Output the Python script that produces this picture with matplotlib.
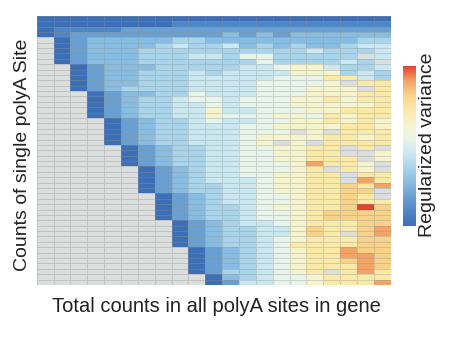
import numpy as np
import matplotlib
matplotlib.use('Agg')
import matplotlib.pyplot as plt
from matplotlib.colors import LinearSegmentedColormap

plt.rcParams['font.family'] = ['Liberation Sans', 'DejaVu Sans']

# Heatmap cells, top row first, 21 columns each.
# '.' = not possible (grey), 0..9, A, B = colour level from blue (0) to red (B)
cell_rows = [
    "0 0 0 0 0 0 0 0 0 0 0 0 0 0 0 0 0 0 0 0 0",
    "0 0 0 0 0 0 0 0 1 1 1 1 1 1 1 1 1 1 1 1 1",
    "0 1 1 1 1 2 2 2 2 2 2 2 2 2 2 2 2 2 2 2 2",
    "0 1 2 2 2 2 2 2 2 2 2 3 2 3 2 3 3 3 3 3 3",
    ". 0 2 3 3 3 3 3 4 4 3 3 3 3 3 3 3 3 3 4 4",
    ". 0 2 3 3 3 3 4 5 4 4 5 3 4 3 4 3 3 4 5 5",
    ". 0 2 3 3 3 4 4 4 4 4 4 4 4 4 4 5 4 4 4 5",
    ". 0 2 3 3 3 4 4 4 5 5 4 6 6 4 4 4 4 4 . 5",
    ". 0 2 3 3 3 4 4 4 4 4 4 4 6 4 4 4 4 5 4 .",
    ". . 0 2 3 3 3 4 4 4 4 4 5 5 6 7 7 5 4 4 5",
    ". . 0 2 3 3 4 4 4 5 4 5 5 5 5 7 7 7 4 5 4",
    ". . 0 2 3 3 4 4 4 5 5 5 5 5 6 6 6 8 8 5 4",
    ". . 0 2 3 3 4 4 4 5 5 5 5 6 6 6 6 7 . 8 8",
    ". . 0 2 3 4 4 4 4 5 5 5 5 6 6 6 7 7 7 . 8",
    ". . . 0 2 3 3 4 4 6 5 5 5 6 6 6 7 7 7 8 8",
    ". . . 0 2 3 4 4 5 6 6 5 6 6 6 7 7 8 7 8 8",
    ". . . 0 2 3 4 4 5 5 6 5 6 6 6 7 7 7 7 7 8",
    ". . . 0 2 3 4 4 5 5 7 5 5 6 6 6 7 7 8 8 8",
    ". . . 0 2 3 4 4 5 5 7 6 6 6 7 7 6 8 7 8 8",
    ". . . . 0 2 3 4 4 5 6 5 5 6 6 7 7 8 7 8 7",
    ". . . . 0 2 3 4 4 5 5 5 6 6 7 7 7 7 8 8 7",
    ". . . . 0 2 3 4 4 5 5 5 6 6 6 . 7 . 8 8 8",
    ". . . . 0 2 3 4 4 5 5 5 6 7 7 7 7 8 8 7 8",
    ". . . . 0 2 3 4 4 5 5 5 6 7 . 7 . 8 8 8 8",
    ". . . . . 0 2 3 4 4 5 5 6 6 7 7 8 8 . 8 .",
    ". . . . . 0 2 3 4 4 5 5 6 6 7 7 8 8 . . 7",
    ". . . . . 0 2 3 4 4 5 5 6 6 7 7 8 8 8 . 7",
    ". . . . . 0 2 3 4 4 5 5 6 6 6 7 A 8 8 7 .",
    ". . . . . . 0 2 3 4 5 5 6 6 6 7 8 . 8 7 .",
    ". . . . . . 0 2 3 4 5 5 6 6 7 7 8 8 . 8 8",
    ". . . . . . 0 2 3 4 5 5 5 6 7 7 8 8 . A 8",
    ". . . . . . 0 2 3 4 4 5 5 6 7 7 8 8 9 8 A",
    ". . . . . . 0 2 3 4 4 5 5 6 7 7 8 8 9 9 .",
    ". . . . . . . 0 2 3 4 5 5 6 6 7 8 8 9 8 .",
    ". . . . . . . 0 2 3 4 5 5 6 6 7 8 8 9 8 8",
    ". . . . . . . 0 2 3 4 4 5 6 7 7 8 8 9 B 9",
    ". . . . . . . 0 2 3 4 4 5 6 6 7 8 9 9 9 9",
    ". . . . . . . 0 2 3 4 4 5 6 6 7 8 9 9 9 9",
    ". . . . . . . . 0 2 3 4 5 5 6 7 8 8 8 9 9",
    ". . . . . . . . 0 2 3 4 4 5 5 7 9 8 8 9 A",
    ". . . . . . . . 0 2 3 4 4 5 5 7 9 8 . 9 A",
    ". . . . . . . . 0 2 3 4 4 5 6 7 8 8 8 9 9",
    ". . . . . . . . 0 2 3 4 4 5 6 8 8 8 8 9 9",
    ". . . . . . . . . 0 2 3 4 5 6 7 8 8 A 9 9",
    ". . . . . . . . . 0 2 3 4 5 6 7 8 8 A A 9",
    ". . . . . . . . . 0 2 3 4 5 6 7 8 8 9 A 9",
    ". . . . . . . . . 0 2 3 4 5 6 7 8 8 8 A 9",
    ". . . . . . . . . 0 2 4 4 5 6 7 8 . 8 A 8",
    ". . . . . . . . . . 0 3 4 5 6 6 7 8 8 8 8",
    ". . . . . . . . . . 0 2 5 5 6 6 7 8 8 8 A",
]
level_codes = "0123456789AB"

# colours along the colour bar, blue (low) to red (high)
level_colors = ['#3d6fb6', '#4f86c5', '#6a9fd2', '#89bde0', '#a9d4ea', '#cbe8f1',
                '#e8f4ea', '#f6f4cc', '#fbeaa8', '#f8d38a', '#f2a465', '#e2432e']

x_label = 'Total counts in all polyA sites in gene'
y_label = 'Counts of single polyA Site'
bar_label = 'Regularized variance'

# turn the strings into a grid, grey cells become NaN
grid = []
for row in cell_rows:
    vals = []
    for tok in row.split():
        vals.append(np.nan if tok == '.' else level_codes.index(tok))
    assert len(vals) == 21, row
    grid.append(vals)
grid = np.ma.masked_invalid(np.array(grid, dtype=float))

n_lev = len(level_colors) - 1
cmap = LinearSegmentedColormap.from_list(
    'regvar', [(i / n_lev, c) for i, c in enumerate(level_colors)])
cmap.set_bad('#dcdddd')

fig = plt.figure(figsize=(4.76, 3.5), dpi=100)
ax = fig.add_axes([0.077, 0.186, 0.744, 0.769])
mesh = ax.pcolormesh(grid, cmap=cmap, vmin=0, vmax=n_lev,
                     edgecolors=(0.55, 0.58, 0.58, 0.35), linewidth=0.5)
ax.set_xlim(0, grid.shape[1])
ax.set_ylim(grid.shape[0], 0)
ax.set_xticks([])
ax.set_yticks([])
for s in ax.spines.values():
    s.set_visible(False)

# colour bar without ticks
cax = fig.add_axes([0.8473, 0.354, 0.0267, 0.457])
cb = fig.colorbar(mesh, cax=cax)
cb.set_ticks([])
cb.outline.set_visible(False)

fig.text(0.455, 0.1237, x_label, ha='center', va='center', fontsize=14.5, color='#222222')
fig.text(0.048, 0.5574, y_label, ha='center', va='center', rotation=90, fontsize=14, color='#222222')
fig.text(0.899, 0.587, bar_label, ha='center', va='center', rotation=90, fontsize=14, color='#222222')

plt.savefig('out.png', dpi=100)
